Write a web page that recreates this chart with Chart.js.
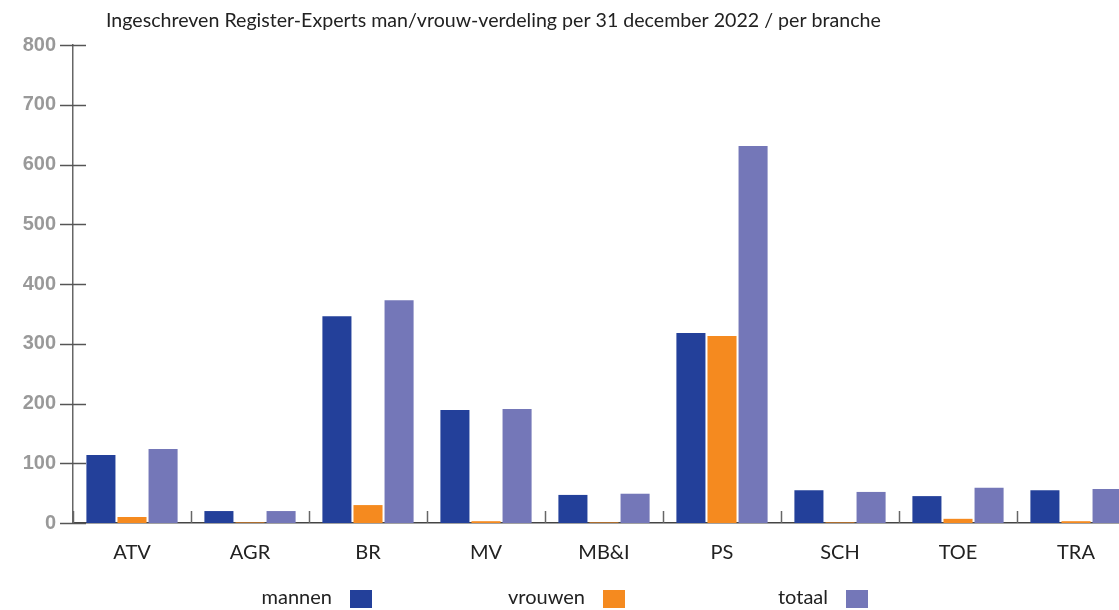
<!DOCTYPE html>
<html>
<head>
<meta charset="utf-8">
<script src="https://cdn.jsdelivr.net/npm/chart.js@4.4.1/dist/chart.umd.min.js"></script>
<style>
  html, body { margin: 0; padding: 0; background: #fff; overflow: hidden; }
  #wrap { width: 1140px; height: 610px; position: relative; }
</style>
</head>
<body>
<div id="wrap"><canvas id="graph"></canvas></div>
<script>
var categories = ['ATV', 'AGR', 'BR', 'MV', 'MB&I', 'PS', 'SCH', 'TOE', 'TRA'];
var mannen = [114, 20, 346, 189, 47, 318, 55, 45, 55];
var vrouwen = [10, 1, 30, 3, 1, 313, 1, 7, 3];
var totaal = [124, 20, 373, 191, 49, 631, 52, 59, 57];
var seriesNames = ['mannen', 'vrouwen', 'totaal'];
var seriesColors = ['#23409a', '#f58a1f', '#7477b8'];
var yMax = 800;
var yStep = 100;
var title = 'Ingeschreven Register-Experts man/vrouw-verdeling per 31 december 2022 / per branche';

var context = document.querySelector('#graph').getContext('2d');

// axis tick marks, title and legend (text first, then box)
var decorations = {
  id: 'decorations',
  afterDraw: function(chart) {
    var ctx = chart.ctx;
    var xs = chart.scales.x, ys = chart.scales.y;
    var area = chart.chartArea;
    ctx.save();
    ctx.strokeStyle = '#555';
    ctx.lineWidth = 1.5;
    ys.ticks.forEach(function(t) {
      var py = Math.round(ys.getPixelForValue(t.value)) + 0.5;
      ctx.beginPath();
      ctx.moveTo(area.left - 13, py);
      ctx.lineTo(area.left + 13, py);
      ctx.stroke();
    });
    var half = (xs.getPixelForValue(1) - xs.getPixelForValue(0)) / 2;
    ctx.strokeStyle = '#666';
    for (var i = 0; i < categories.length; i++) {
      var px = Math.round(xs.getPixelForValue(i) - half) + 0.5;
      ctx.beginPath();
      ctx.moveTo(px, area.bottom - 12);
      ctx.lineTo(px, area.bottom);
      ctx.stroke();
    }

    ctx.fillStyle = '#222';
    ctx.font = '19.6px Lato';
    ctx.textBaseline = 'middle';
    ctx.textAlign = 'left';
    ctx.fillText(title, 106, 21);

    var boxX = [350, 603, 846];
    ctx.font = '20px Lato';
    ctx.textAlign = 'right';
    chart.data.datasets.forEach(function(ds, k) {
      ctx.fillStyle = '#222';
      ctx.fillText(ds.label, boxX[k] - 18, 598);
      ctx.fillStyle = ds.backgroundColor;
      ctx.fillRect(boxX[k], 590, 22, 18);
    });
    ctx.restore();
  }
};

function chartSetup() {
  var values = [mannen, vrouwen, totaal];
  var datasets = seriesNames.map(function(name, k) {
    return {
      label: name,
      data: values[k],
      backgroundColor: seriesColors[k],
      categoryPercentage: 0.79,
      barPercentage: 0.935
    };
  });
  return {
    type: 'bar',
    data: { labels: categories, datasets: datasets },
    options: {
      responsive: true,
      maintainAspectRatio: false,
      animation: false,
      layout: { padding: { top: 45, right: 5, bottom: 45, left: 0 } },
      plugins: {
        legend: { display: false },
        title: { display: false },
        tooltip: { enabled: false }
      },
      scales: {
        x: {
          grid: { display: false, drawTicks: false },
          border: { display: true, color: '#444', width: 1.5 },
          ticks: { color: '#222', font: { family: 'Lato', size: 20 }, padding: 18 },
          afterFit: function(s) { s.height = 42; }
        },
        y: {
          min: 0,
          max: yMax,
          grid: { display: false, drawTicks: false },
          border: { display: true, color: '#666', width: 1.5 },
          ticks: {
            stepSize: yStep,
            color: '#999',
            font: { family: 'Liberation Sans', size: 20, weight: 'bold' },
            padding: 17
          },
          afterFit: function(s) { s.width = 73; }
        }
      }
    },
    plugins: [decorations]
  };
}

var chart = new Chart(context, chartSetup());
</script>
</body>
</html>
